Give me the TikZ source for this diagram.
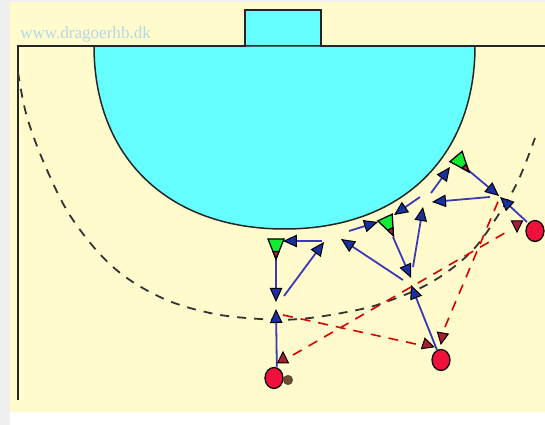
\documentclass[tikz,border=0pt]{standalone}
\usepackage{fontspec}
\setmainfont{Liberation Serif}
\usetikzlibrary{arrows.meta,shapes.geometric}
\definecolor{courtyellow}{HTML}{FFFBCC}
\definecolor{goalcyan}{HTML}{66FFFF}
\definecolor{shirtred}{HTML}{F0103C}
\definecolor{tipred}{HTML}{A81E32}
\definecolor{shirtgreen}{HTML}{12EC30}
\definecolor{headblue}{HTML}{1A2FA0}
\definecolor{runblue}{HTML}{3A3AB8}
\definecolor{webblue}{HTML}{B5D8E8}
\tikzset{
  courtline/.style={line width=0.3mm, color=black!85},
  zoneline/.style={line width=0.36mm, color=black!80, dash pattern=on 1.8mm off 1.6mm},
  run/.style={line width=0.36mm, color=runblue, -{Triangle[length=2.8mm,width=2.5mm,color=black,fill=headblue,line width=0.2mm]}},
  pass/.style={line width=0.32mm, color=red!85!black, dash pattern=on 2mm off 1.6mm},
  attacker/.style={ellipse, draw=black, line width=0.25mm, fill=shirtred, inner sep=0pt, minimum width=0.36cm, minimum height=0.42cm},
  ball/.style={circle, draw=black!70, line width=0.2mm, fill=brown!60!black, inner sep=0pt, minimum size=0.18cm},
}
% #1 x, #2 y, #3 screen angle of the tip
\def\defender(#1,#2,#3){\begin{scope}[shift={(#1,#2)},rotate=-#3]
  \draw[line width=0.25mm, fill=shirtgreen] (-9,-8) -- (-9,8) -- (11,0) -- cycle;
  \draw[line width=0.25mm, fill=tipred] (3.5,-3) -- (3.5,3) -- (11,0) -- cycle;
\end{scope}}
\def\handmark(#1,#2,#3){\begin{scope}[shift={(#1,#2)},rotate=-#3]
  \draw[line width=0.2mm, fill=tipred] (-5,-5.5) -- (-5,5.5) -- (6,0) -- cycle;
\end{scope}}

\begin{document}
\begin{tikzpicture}[x=0.02cm,y=-0.02cm]
	\useasboundingbox (0,0) rectangle (545,425);
	%%%%% COURT %%%%%
	\fill[black!6] (0,0) rectangle (545,425);
	\fill[white] (10,412) rectangle (545,425);
	\fill[courtyellow] (10,2) rectangle (545,412);
	\fill[goalcyan] (245,10) rectangle (321,46);
	\draw[courtline, fill=goalcyan] (94,46) .. controls (94,157) and (167.5,229) .. (284.5,229) .. controls (401.5,229) and (475,157) .. (475,46) -- cycle;
	\draw[courtline] (18,400) -- (18,46) -- (245,46) -- (245,10) -- (321,10) -- (321,46) -- (545,46);
	\draw[zoneline] plot[smooth, tension=0.6] coordinates {(18,72) (27,117) (47,170) (73,220) (113,267) (160,297) (210,313) (260,319) (300,319) (347,312) (383,303) (430,283) (470,253) (497,217) (518,181) (535,138)};
	\node[font=\fontsize{9.7}{11}\selectfont, color=webblue, anchor=base west, inner sep=0pt] (web) at (20,38.5) {www.dragoerhb.dk};

	%%%%% PLAYERS %%%%%
	\node[attacker] (left) at (274,378) {};
	\node[attacker] (middle) at (441,360) {};
	\node[attacker] (right) at (535,231) {};
	\node[ball] (handball) at (288,380) {};

	\coordinate (a1) at (276,309);
	\coordinate (a2) at (276,302);
	\coordinate (a3) at (276,258);
	\coordinate (a4) at (284,296);
	\coordinate (a5) at (324,242);
	\coordinate (a6) at (322,241);
	\coordinate (a7) at (283,241);
	\coordinate (b1) at (349,231);
	\coordinate (b2) at (378,222);
	\coordinate (b3) at (403,280);
	\coordinate (b4) at (341,239);
	\coordinate (b5) at (393,237);
	\coordinate (b6) at (411,278);
	\coordinate (b7) at (413,267);
	\coordinate (b8) at (423,207);
	\coordinate (c1) at (420,197);
	\coordinate (c2) at (394,215);
	\coordinate (c3) at (431,193);
	\coordinate (c4) at (450,167);
	\coordinate (c5) at (490,197);
	\coordinate (c6) at (432,202);
	\coordinate (c7) at (468,170);
	\coordinate (c8) at (499,196);
	\coordinate (c9) at (527,222);
	\coordinate (c10) at (500,197);
	\coordinate (d2) at (411,285);

	\coordinate (p1) at (293,355);
	\coordinate (p2) at (510,230);
	\coordinate (p3) at (283,315);
	\coordinate (p4) at (420,345);
	\coordinate (p5) at (445,327);
	\coordinate (p6) at (500,197);

	%%%%% PASSES %%%%%
	\draw[pass] (p1) -- (p2);
	\draw[pass] (p3) -- (p4);
	\draw[pass] (p5) -- (p6);

	%%%%% RUNS %%%%%
	\draw[run] (left.75) -- (a1);
	\draw[run] (a3) -- (a2);
	\draw[run] (a4) -- (a5);
	\draw[run] (a6) -- (a7);
	\draw[run] (b1) -- (b2);
	\draw[run] (b3) -- (b4);
	\draw[run] (b5) -- (b6);
	\draw[run] (b7) -- (b8);
	\draw[run] (c1) -- (c2);
	\draw[run] (c3) -- (c4);
	\draw[run] (c5) -- (c6);
	\draw[run] (c7) -- (c8);
	\draw[run] (c9) -- (c10);
	\draw[run] (middle) -- (d2);

	\defender(276,248,90)
	\defender(388.8,225.7,65)
	\defender(461.8,163.4,50)
	\handmark(283,358,-90)
	\handmark(428,345,18)
	\handmark(442,338,100)
	\handmark(517,226,90)
\end{tikzpicture}
\end{document}
